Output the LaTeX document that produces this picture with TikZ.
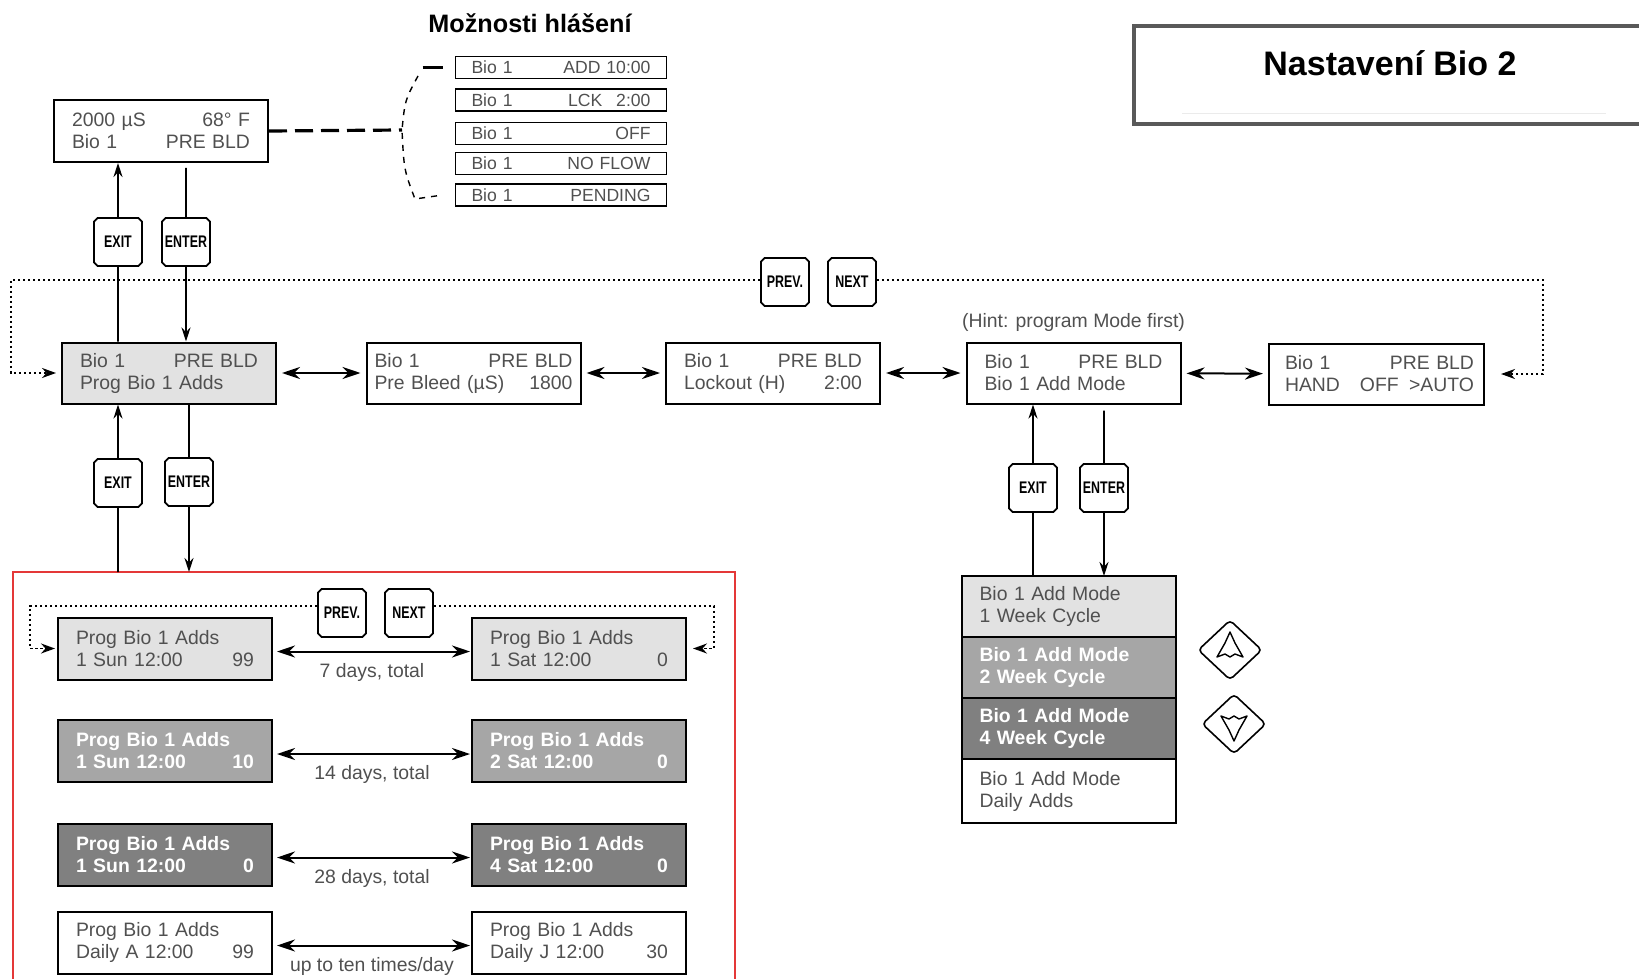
\documentclass[tikz,border=0pt]{standalone}
\usepackage{fontspec}
\setmainfont{Liberation Sans}
\newfontfamily\keyfont[FakeStretch=0.74]{Liberation Sans}
\usepackage{xcolor}
\usepackage{tikz}
\usetikzlibrary{arrows.meta, positioning, shapes.geometric, shapes.misc}
\definecolor{lcdtext}{RGB}{80, 80, 80}
\definecolor{litefill}{RGB}{226, 226, 226}
\definecolor{midfill}{RGB}{166, 166, 166}
\definecolor{darkfill}{RGB}{128, 128, 128}
\definecolor{framered}{RGB}{228, 56, 56}

\begin{document}
\begin{tikzpicture}[x=0.5pt, y=-0.5pt,
	lcd/.style={draw=black, line width=1pt, text=lcdtext, align=left,
		font=\fontsize{9.7}{11}\selectfont, inner xsep=9pt, inner ysep=0pt,
		minimum height=30.5pt, text width=89pt},
	lite/.style={lcd, fill=litefill},
	mid/.style={lcd, fill=midfill, text=white, font=\fontsize{9.7}{11}\selectfont\bfseries},
	dark/.style={lcd, fill=darkfill, text=white, font=\fontsize{9.7}{11}\selectfont\bfseries},
	opt/.style={draw=black, line width=0.9pt, text=lcdtext, align=left,
		font=\fontsize{8.8}{10}\selectfont, inner xsep=8pt, inner ysep=0pt,
		minimum height=11pt, text width=89.5pt},
	key/.style={chamfered rectangle, chamfered rectangle xsep=0.9pt, chamfered rectangle ysep=0.9pt,
		draw=black, line width=0.9pt, fill=white, minimum width=24pt, minimum height=24pt,
		inner sep=0pt, font=\keyfont\bfseries\fontsize{8.4}{9}\selectfont},
	arr/.style={-{Stealth[length=7pt, width=4.5pt]}, line width=0.8pt},
	dbl/.style={{Stealth[length=9pt, width=6pt]}-{Stealth[length=9pt, width=6pt]}, line width=1pt,
		shorten <=2.5pt, shorten >=2.5pt},
	loopline/.style={-{Stealth[length=7pt, width=5pt]}, line width=1.1pt, dash pattern=on 1.2pt off 1.3pt},
	rowlabel/.style={text=lcdtext, font=\fontsize{9.7}{11}\selectfont}
	]
	\useasboundingbox (0,0) rectangle (1639,979);

	% Titles
	\node[font=\fontsize{12.6}{14}\selectfont\bfseries] (opttitle) at (530,23) {Možnosti hlášení};
	\draw[line width=1.6pt, black!65] (1645,26) -- (1134,26) -- (1134,124) -- (1645,124);
	\draw[black!8] (1182,113) -- (1606,113);
	\node[font=\fontsize{17}{20}\selectfont\bfseries] (title) at (1390,63) {Nastavení Bio 2};

	% Status display and report options
	\node[lcd, minimum height=31pt] (disp) at (161,131) {2000 µS\hfill 68° F\\Bio 1\hfill PRE BLD};
	\foreach \yy/\msg [count=\i] in {67.5/ADD 10:00, 100/LCK\hspace{7pt}2:00, 133.5/OFF, 163.5/NO FLOW, 195/PENDING}
		\node[opt] (opt\i) at (561,\yy) {Bio 1\hfill \msg};

	\coordinate (brk) at (402,130);
	\draw[line width=1.6pt, dash pattern=on 9pt off 4pt] (disp.east) -- (brk);
	\draw[line width=1.5pt] ([xshift=-16pt]opt1.west) -- ([xshift=-6pt]opt1.west);
	\draw[line width=0.7pt, dashed] (418,76) .. controls (405,100) .. (brk) .. controls (404,170) .. (415,199) -- ([xshift=-6pt]opt5.west);

	% Main menu row
	\node[lite] (b1) at (169,373) {Bio 1\hfill PRE BLD\\Prog Bio 1 Adds};
	\node[lcd, inner xsep=4pt, text width=99pt] (b2) at (473.5,373) {Bio 1\hfill PRE BLD\\Pre Bleed (µS)\hfill 1800};
	\node[lcd] (b3) at (773,373) {Bio 1\hfill PRE BLD\\Lockout (H)\hfill 2:00};
	\node[lcd] (b4) at (1073.5,373) {Bio 1\hfill PRE BLD\\Bio 1 Add Mode};
	\node[lcd, inner xsep=5pt, text width=97.5pt] (b5) at (1376.5,374) {\hspace*{3pt}Bio 1\hfill PRE BLD\\\hspace*{3pt}HAND\hspace{10pt}OFF\hfill >AUTO};
	\node[rowlabel, above=1.5pt of b4] (hint) {(Hint: program Mode first)};

	\draw[dbl] (b1) -- (b2);
	\draw[dbl] (b2) -- (b3);
	\draw[dbl] (b3) -- (b4);
	\draw[dbl] (b4) -- (b5);

	% Keys between display and menu
	\node[key] (exitA) at (118,242) {EXIT};
	\node[key] (enterA) at (186,242) {ENTER};
	\draw[line width=0.8pt] (exitA |- b1.north) -- (exitA);
	\draw[arr] (exitA) -- (exitA |- disp.south);
	\draw[line width=0.8pt, shorten <=2.5pt] (enterA |- disp.south) -- (enterA);
	\draw[arr] (enterA) -- (enterA |- b1.north);

	% PREV / NEXT loop of the menu
	\node[key] (prevA) at (785,282) {PREV.};
	\node[key] (nextA) at (852,282) {NEXT};
	\coordinate (lpA) at (11,280);
	\coordinate (rpA) at (1543,280);
	\draw[loopline, shorten >=2.5pt] (prevA.west |- lpA) -- (lpA) |- (b1.west);
	\draw[loopline, shorten >=8pt] (nextA.east |- rpA) -- (rpA) |- (b5.east);

	% Red frame with the add programs
	\coordinate (redtop) at (13,572);
	\draw[framered, line width=0.9pt] (13,985) -- (redtop) -- (735,572) -- (735,985);

	\node[key] (exitB) at (118,483) {EXIT};
	\node[key] (enterB) at (189,482) {ENTER};
	\draw[line width=0.8pt] (exitB |- redtop) -- (exitB);
	\draw[arr] (exitB) -- (exitB |- b1.south);
	\draw[line width=0.8pt] (enterB |- b1.south) -- (enterB);
	\draw[arr] (enterB) -- (enterB |- redtop);

	\foreach \yy/\st/\lt/\rt/\lbl [count=\i] in {
		648.5/lite/1 Sun 12:00\hfill 99/1 Sat 12:00\hfill 0/{7 days, total},
		751/mid/1 Sun 12:00\hfill 10/2 Sat 12:00\hfill 0/{14 days, total},
		854.5/dark/1 Sun 12:00\hfill 0/4 Sat 12:00\hfill 0/{28 days, total},
		942.5/lcd/Daily A 12:00\hfill 99/Daily J 12:00\hfill 30/{up to ten times/day}} {
		\node[\st, minimum height=31pt] (l\i) at (165,\yy) {Prog Bio 1 Adds\\\lt};
		\node[\st, minimum height=31pt] (r\i) at (579,\yy) {Prog Bio 1 Adds\\\rt};
		\draw[dbl, shorten <=2pt, shorten >=0.5pt] ([yshift=-1.5pt]l\i.east) -- ([yshift=-1.5pt]r\i.west)
			node[midway, below=2pt, rowlabel] {\lbl};
	}

	\node[key] (prevB) at (342,613) {PREV.};
	\node[key] (nextB) at (409,613) {NEXT};
	\coordinate (lpB) at (30,606);
	\coordinate (rpB) at (714,606);
	\draw[loopline, line width=0.9pt, shorten >=1pt] (prevB.west |- lpB) -- (lpB) |- (l1.west);
	\draw[loopline, line width=0.9pt, shorten >=3pt] (nextB.east |- rpB) -- (rpB) |- (r1.east);

	% Add mode choices
	\node[lite, outer sep=0pt] (m1) at (1068.5,606.5) {Bio 1 Add Mode\\1 Week Cycle};
	\node[mid, outer sep=0pt, below=0pt of m1] (m2) {Bio 1 Add Mode\\2 Week Cycle};
	\node[dark, outer sep=0pt, below=0pt of m2] (m3) {Bio 1 Add Mode\\4 Week Cycle};
	\node[lcd, outer sep=0pt, minimum height=32pt, below=0pt of m3] (m4) {Bio 1 Add Mode\\Daily Adds};

	\node[key] (exitC) at (1033,488) {EXIT};
	\node[key] (enterC) at (1104,488) {ENTER};
	\draw[line width=0.8pt] (exitC |- m1.north) -- (exitC);
	\draw[arr] (exitC) -- (exitC |- b4.south);
	\draw[line width=0.8pt, shorten <=3pt] (enterC |- b4.south) -- (enterC);
	\draw[arr] (enterC) -- (enterC |- m1.north);

	% Up and down keys
	\node[diamond, draw, line width=0.8pt, rounded corners=2pt, minimum width=32pt, minimum height=30pt, inner sep=0pt] (upkey) at (1230,650) {};
	\node[diamond, draw, line width=0.8pt, rounded corners=2pt, minimum width=32pt, minimum height=30pt, inner sep=0pt] (downkey) at (1234,724) {};
	\draw[line width=0.7pt, line join=round] (upkey.center) ++(0,-18) -- ++(5,11) -- ++(8,14) -- ++(-8,-3) -- ++(-5,3) -- ++(-5,-3) -- ++(-8,3) -- ++(8,-14) -- cycle;
	\draw[line width=0.7pt, line join=round] (downkey.center) ++(0,17) -- ++(5,-11) -- ++(8,-14) -- ++(-8,3) -- ++(-5,-3) -- ++(-5,3) -- ++(-8,-3) -- ++(8,14) -- cycle;

\end{tikzpicture}
\end{document}
